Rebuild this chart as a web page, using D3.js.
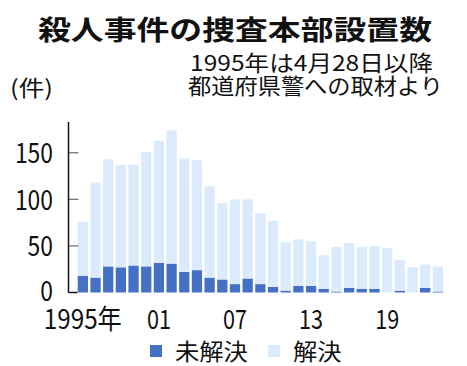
<!DOCTYPE html>
<html>
<head>
<meta charset="utf-8">
<script src="https://cdn.jsdelivr.net/npm/d3@7"></script>
<style>
body{margin:0;background:#fff;}
text{font-family:"Noto Sans CJK JP","Noto Sans",sans-serif;fill:#111;}
</style>
</head>
<body>
<div id="chart"></div>
<script>
var years = d3.range(1995, 2024);
// 未解決 (unsolved)
var unsolved = [18,16,28,27,29,28,32,31,22,24,16,14,9,15,9,6,2,7,7,4,1,5,4,4,0,2,0,5,1];
// total set up per year
var totals = [76,118,143,137,137,151,163,174,144,142,114,96,100,100,85,77,54,57,55,40,49,53,49,50,48,35,27,30,28];
var yTicks = [0,50,100,150];
var xLabels = {1995:"1995年", 2001:"01", 2007:"07", 2013:"13", 2019:"19"};
var keys = ["未解決","解決"];
var colors = ["#4470c6","#dbebfb"];

var width = 467, height = 366;
var svg = d3.select("#chart").append("svg")
    .attr("width", width).attr("height", height);

var data = years.map(function(y,i){
    return {year:y, unsolved:unsolved[i], solved:totals[i]-unsolved[i]};
});

var xScale = d3.scaleBand().domain(years).range([77.7, 443]).paddingInner(0.19).paddingOuter(0);
var yScale = d3.scaleLinear().domain([0, 183]).range([292.5, 122]);

// title & notes
svg.append("text").text("殺人事件の捜査本部設置数")
    .attr("x", 38).attr("y", 40)
    .attr("font-size", 27).attr("font-weight", "bold")
    .attr("textLength", 394).attr("lengthAdjust", "spacingAndGlyphs");
svg.append("text").text("1995年は4月28日以降")
    .attr("x", 190).attr("y", 70.5).attr("font-size", 22)
    .attr("textLength", 243).attr("lengthAdjust", "spacingAndGlyphs");
svg.append("text").text("都道府県警への取材より")
    .attr("x", 188).attr("y", 93.5).attr("font-size", 22)
    .attr("textLength", 255).attr("lengthAdjust", "spacingAndGlyphs");
svg.append("text").text("(件)")
    .attr("x", 10).attr("y", 96).attr("font-size", 22)
    .attr("textLength", 43).attr("lengthAdjust", "spacingAndGlyphs");

// stacked bars
var stack = d3.stack().keys(["unsolved","solved"])(data);
svg.selectAll("g.layer").data(stack).enter().append("g")
    .attr("class","layer")
    .style("fill", function(d,i){return colors[i];})
    .selectAll("rect").data(function(d){return d;}).enter().append("rect")
    .attr("x", function(d){return xScale(d.data.year);})
    .attr("width", xScale.bandwidth())
    .attr("y", function(d){return yScale(d[1]);})
    .attr("height", function(d){return yScale(d[0]) - yScale(d[1]);});

// y axis
var ax = 68.5;
svg.selectAll(".ytick").data(yTicks.filter(function(d){return d>0;})).enter().append("line")
    .attr("x1", ax).attr("x2", ax+10)
    .attr("y1", function(d){return yScale(d);}).attr("y2", function(d){return yScale(d);})
    .attr("stroke", "#777").attr("stroke-width", 1.3);
svg.append("line").attr("x1", ax).attr("x2", ax).attr("y1", 122).attr("y2", yScale(0))
    .attr("stroke", "#111").attr("stroke-width", 1.5);
svg.append("line").attr("x1", ax).attr("x2", 77.5).attr("y1", yScale(0)).attr("y2", yScale(0))
    .attr("stroke", "#111").attr("stroke-width", 1.5);

svg.selectAll(".ylab").data(yTicks).enter().append("text")
    .text(function(d){return d;})
    .attr("x", 53).attr("y", function(d){return yScale(d) + (d==0 ? 8.5 : 10.5);})
    .attr("text-anchor", "end").attr("font-size", 28)
    .attr("textLength", function(d){return String(d).length*12.7;})
    .attr("lengthAdjust", "spacingAndGlyphs");

// x labels
var xl = Object.keys(xLabels).map(Number);
svg.selectAll(".xlab").data(xl).enter().append("text")
    .text(function(d){return xLabels[d];})
    .attr("x", function(d){return xScale(d) + xScale.bandwidth()/2;})
    .attr("y", 329).attr("text-anchor", "middle").attr("font-size", 27)
    .attr("textLength", function(d){return d==1995 ? 78 : 24;})
    .attr("lengthAdjust", "spacingAndGlyphs");

// legend
var lx = [150, 268];
keys.forEach(function(k,i){
    svg.append("rect").attr("x", lx[i]).attr("y", 345).attr("width", 12).attr("height", 12)
        .attr("fill", colors[i]);
    svg.append("text").text(k)
        .attr("x", lx[i]+25).attr("y", 360).attr("font-size", 23)
        .attr("textLength", k.length*24.3).attr("lengthAdjust", "spacingAndGlyphs");
});
</script>
</body>
</html>
